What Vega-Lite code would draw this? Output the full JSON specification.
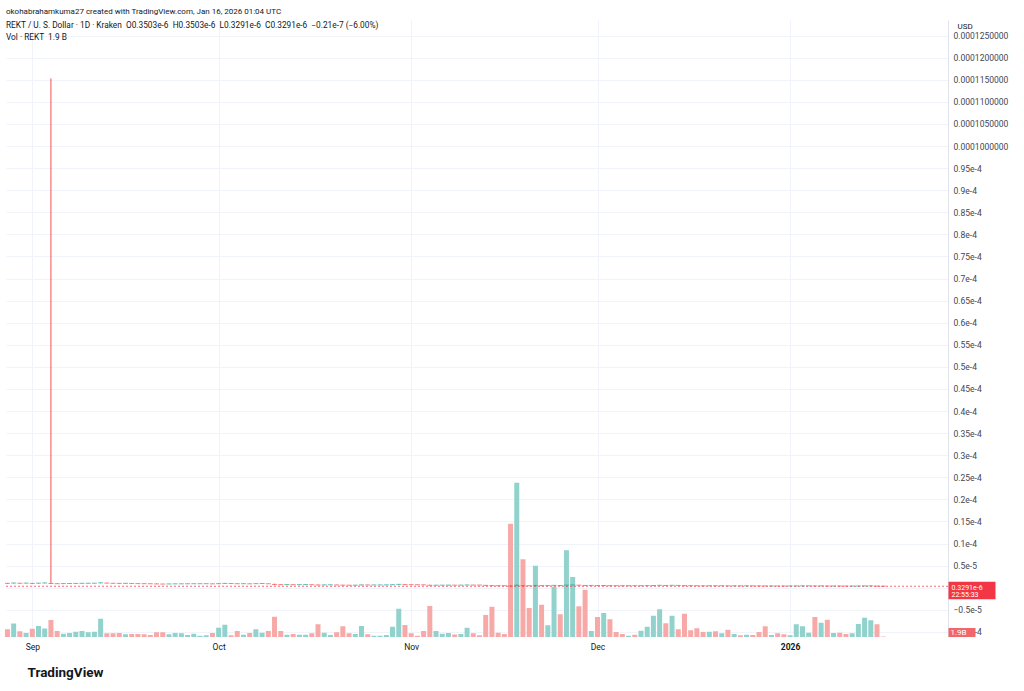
{
  "$schema": "https://vega.github.io/schema/vega-lite/v6.json",
  "width": 942,
  "height": 617,
  "autosize": {"type": "none"},
  "padding": {"left": 6, "top": 20, "right": 76, "bottom": 54},
  "background": "white",
  "config": {
    "view": {"stroke": null},
    "font": "Roboto",
    "axis": {"labelFont": "Roboto", "titleFont": "Roboto"}
  },
  "title": {
    "text": "okohabrahamkuma27 created with TradingView.com, Jan 16, 2026 01:04 UTC",
    "subtitle": ["\u00a0REKT / U. S. Dollar · 1D · Kraken \u00a0O0.3503e-6 \u00a0H0.3503e-6 \u00a0L0.3291e-6 \u00a0C0.3291e-6 \u00a0−0.21e-7 (−6.00%)", "\u00a0Vol · REKT \u00a01.9 B"],
    "anchor": "start",
    "frame": "group",
    "orient": "top",
    "offset": -21,
    "font": "Roboto",
    "fontSize": 8,
    "fontWeight": "normal",
    "color": "#131722",
    "subtitleFont": "Roboto",
    "subtitleFontSize": 8.3,
    "subtitleColor": "#131722",
    "subtitlePadding": 5,
    "subtitleLineHeight": 11.3
  },
  "datasets": {
    "candles": [
      {"date": "2025-08-28", "o": 1.05e-6, "h": 1.08e-6, "l": 0.95e-6, "c": 0.98e-6, "vol": 31},
      {"date": "2025-08-29", "o": 0.98e-6, "h": 1.09e-6, "l": 0.95e-6, "c": 1.06e-6, "vol": 54},
      {"date": "2025-08-30", "o": 1.06e-6, "h": 1.09e-6, "l": 0.98e-6, "c": 1.01e-6, "vol": 23},
      {"date": "2025-08-31", "o": 1.01e-6, "h": 1.07e-6, "l": 0.98e-6, "c": 1.04e-6, "vol": 16},
      {"date": "2025-09-01", "o": 1.04e-6, "h": 1.07e-6, "l": 0.94e-6, "c": 0.97e-6, "vol": 33},
      {"date": "2025-09-02", "o": 0.97e-6, "h": 1.06e-6, "l": 0.94e-6, "c": 1.03e-6, "vol": 44},
      {"date": "2025-09-03", "o": 1.03e-6, "h": 1.10e-6, "l": 1.00e-6, "c": 1.07e-6, "vol": 34},
      {"date": "2025-09-04", "o": 1.07e-6, "h": 1.153e-4, "l": 0.92e-6, "c": 0.95e-6, "vol": 68},
      {"date": "2025-09-05", "o": 0.95e-6, "h": 0.98e-6, "l": 0.88e-6, "c": 0.91e-6, "vol": 24},
      {"date": "2025-09-06", "o": 0.91e-6, "h": 0.96e-6, "l": 0.88e-6, "c": 0.93e-6, "vol": 13},
      {"date": "2025-09-07", "o": 0.93e-6, "h": 0.98e-6, "l": 0.90e-6, "c": 0.95e-6, "vol": 16},
      {"date": "2025-09-08", "o": 0.95e-6, "h": 1.00e-6, "l": 0.92e-6, "c": 0.97e-6, "vol": 21},
      {"date": "2025-09-09", "o": 0.97e-6, "h": 1.02e-6, "l": 0.94e-6, "c": 0.99e-6, "vol": 24},
      {"date": "2025-09-10", "o": 0.99e-6, "h": 1.03e-6, "l": 0.96e-6, "c": 1.00e-6, "vol": 19},
      {"date": "2025-09-11", "o": 1.00e-6, "h": 1.05e-6, "l": 0.97e-6, "c": 1.02e-6, "vol": 21},
      {"date": "2025-09-12", "o": 1.02e-6, "h": 1.14e-6, "l": 0.99e-6, "c": 1.10e-6, "vol": 73},
      {"date": "2025-09-13", "o": 1.10e-6, "h": 1.12e-6, "l": 1.01e-6, "c": 1.04e-6, "vol": 15},
      {"date": "2025-09-14", "o": 1.04e-6, "h": 1.06e-6, "l": 0.97e-6, "c": 1.00e-6, "vol": 15},
      {"date": "2025-09-15", "o": 1.00e-6, "h": 1.03e-6, "l": 0.94e-6, "c": 0.97e-6, "vol": 16},
      {"date": "2025-09-16", "o": 0.97e-6, "h": 1.02e-6, "l": 0.94e-6, "c": 0.99e-6, "vol": 11},
      {"date": "2025-09-17", "o": 0.99e-6, "h": 1.01e-6, "l": 0.93e-6, "c": 0.96e-6, "vol": 12},
      {"date": "2025-09-18", "o": 0.96e-6, "h": 0.98e-6, "l": 0.90e-6, "c": 0.93e-6, "vol": 12},
      {"date": "2025-09-19", "o": 0.93e-6, "h": 0.95e-6, "l": 0.88e-6, "c": 0.91e-6, "vol": 11},
      {"date": "2025-09-20", "o": 0.91e-6, "h": 0.93e-6, "l": 0.88e-6, "c": 0.90e-6, "vol": 8},
      {"date": "2025-09-21", "o": 0.90e-6, "h": 0.92e-6, "l": 0.83e-6, "c": 0.86e-6, "vol": 19},
      {"date": "2025-09-22", "o": 0.86e-6, "h": 0.88e-6, "l": 0.80e-6, "c": 0.83e-6, "vol": 19},
      {"date": "2025-09-23", "o": 0.83e-6, "h": 0.87e-6, "l": 0.81e-6, "c": 0.85e-6, "vol": 11},
      {"date": "2025-09-24", "o": 0.85e-6, "h": 0.89e-6, "l": 0.83e-6, "c": 0.87e-6, "vol": 16},
      {"date": "2025-09-25", "o": 0.87e-6, "h": 0.90e-6, "l": 0.85e-6, "c": 0.88e-6, "vol": 15},
      {"date": "2025-09-26", "o": 0.88e-6, "h": 0.91e-6, "l": 0.86e-6, "c": 0.89e-6, "vol": 8},
      {"date": "2025-09-27", "o": 0.89e-6, "h": 0.92e-6, "l": 0.87e-6, "c": 0.90e-6, "vol": 13},
      {"date": "2025-09-28", "o": 0.90e-6, "h": 0.92e-6, "l": 0.88e-6, "c": 0.905e-6, "vol": 5},
      {"date": "2025-09-29", "o": 0.905e-6, "h": 0.93e-6, "l": 0.89e-6, "c": 0.91e-6, "vol": 7},
      {"date": "2025-09-30", "o": 0.91e-6, "h": 0.93e-6, "l": 0.85e-6, "c": 0.87e-6, "vol": 16},
      {"date": "2025-10-01", "o": 0.87e-6, "h": 0.95e-6, "l": 0.85e-6, "c": 0.92e-6, "vol": 37},
      {"date": "2025-10-02", "o": 0.92e-6, "h": 1.00e-6, "l": 0.90e-6, "c": 0.97e-6, "vol": 49},
      {"date": "2025-10-03", "o": 0.97e-6, "h": 0.99e-6, "l": 0.93e-6, "c": 0.95e-6, "vol": 7},
      {"date": "2025-10-04", "o": 0.95e-6, "h": 0.97e-6, "l": 0.88e-6, "c": 0.90e-6, "vol": 24},
      {"date": "2025-10-05", "o": 0.90e-6, "h": 0.93e-6, "l": 0.88e-6, "c": 0.91e-6, "vol": 9},
      {"date": "2025-10-06", "o": 0.91e-6, "h": 0.93e-6, "l": 0.86e-6, "c": 0.88e-6, "vol": 16},
      {"date": "2025-10-07", "o": 0.88e-6, "h": 0.95e-6, "l": 0.86e-6, "c": 0.92e-6, "vol": 31},
      {"date": "2025-10-08", "o": 0.92e-6, "h": 0.96e-6, "l": 0.90e-6, "c": 0.94e-6, "vol": 17},
      {"date": "2025-10-09", "o": 0.94e-6, "h": 0.96e-6, "l": 0.87e-6, "c": 0.89e-6, "vol": 24},
      {"date": "2025-10-10", "o": 0.89e-6, "h": 0.91e-6, "l": 0.66e-6, "c": 0.74e-6, "vol": 81},
      {"date": "2025-10-11", "o": 0.74e-6, "h": 0.76e-6, "l": 0.67e-6, "c": 0.70e-6, "vol": 24},
      {"date": "2025-10-12", "o": 0.70e-6, "h": 0.73e-6, "l": 0.68e-6, "c": 0.71e-6, "vol": 9},
      {"date": "2025-10-13", "o": 0.71e-6, "h": 0.73e-6, "l": 0.67e-6, "c": 0.69e-6, "vol": 12},
      {"date": "2025-10-14", "o": 0.69e-6, "h": 0.72e-6, "l": 0.67e-6, "c": 0.70e-6, "vol": 9},
      {"date": "2025-10-15", "o": 0.70e-6, "h": 0.73e-6, "l": 0.68e-6, "c": 0.71e-6, "vol": 9},
      {"date": "2025-10-16", "o": 0.71e-6, "h": 0.73e-6, "l": 0.66e-6, "c": 0.68e-6, "vol": 15},
      {"date": "2025-10-17", "o": 0.68e-6, "h": 0.70e-6, "l": 0.59e-6, "c": 0.62e-6, "vol": 51},
      {"date": "2025-10-18", "o": 0.62e-6, "h": 0.66e-6, "l": 0.60e-6, "c": 0.64e-6, "vol": 17},
      {"date": "2025-10-19", "o": 0.64e-6, "h": 0.67e-6, "l": 0.62e-6, "c": 0.65e-6, "vol": 8},
      {"date": "2025-10-20", "o": 0.65e-6, "h": 0.67e-6, "l": 0.60e-6, "c": 0.62e-6, "vol": 19},
      {"date": "2025-10-21", "o": 0.62e-6, "h": 0.64e-6, "l": 0.56e-6, "c": 0.58e-6, "vol": 43},
      {"date": "2025-10-22", "o": 0.58e-6, "h": 0.60e-6, "l": 0.55e-6, "c": 0.57e-6, "vol": 15},
      {"date": "2025-10-23", "o": 0.57e-6, "h": 0.60e-6, "l": 0.55e-6, "c": 0.58e-6, "vol": 12},
      {"date": "2025-10-24", "o": 0.58e-6, "h": 0.66e-6, "l": 0.56e-6, "c": 0.63e-6, "vol": 44},
      {"date": "2025-10-25", "o": 0.63e-6, "h": 0.65e-6, "l": 0.60e-6, "c": 0.62e-6, "vol": 11},
      {"date": "2025-10-26", "o": 0.62e-6, "h": 0.64e-6, "l": 0.61e-6, "c": 0.625e-6, "vol": 5},
      {"date": "2025-10-27", "o": 0.625e-6, "h": 0.65e-6, "l": 0.61e-6, "c": 0.63e-6, "vol": 5},
      {"date": "2025-10-28", "o": 0.63e-6, "h": 0.66e-6, "l": 0.61e-6, "c": 0.64e-6, "vol": 8},
      {"date": "2025-10-29", "o": 0.64e-6, "h": 0.71e-6, "l": 0.62e-6, "c": 0.68e-6, "vol": 41},
      {"date": "2025-10-30", "o": 0.68e-6, "h": 0.81e-6, "l": 0.66e-6, "c": 0.76e-6, "vol": 113},
      {"date": "2025-10-31", "o": 0.76e-6, "h": 0.78e-6, "l": 0.68e-6, "c": 0.70e-6, "vol": 48},
      {"date": "2025-11-01", "o": 0.70e-6, "h": 0.72e-6, "l": 0.66e-6, "c": 0.68e-6, "vol": 15},
      {"date": "2025-11-02", "o": 0.68e-6, "h": 0.69e-6, "l": 0.66e-6, "c": 0.675e-6, "vol": 5},
      {"date": "2025-11-03", "o": 0.675e-6, "h": 0.69e-6, "l": 0.63e-6, "c": 0.65e-6, "vol": 24},
      {"date": "2025-11-04", "o": 0.65e-6, "h": 0.67e-6, "l": 0.52e-6, "c": 0.55e-6, "vol": 124},
      {"date": "2025-11-05", "o": 0.55e-6, "h": 0.59e-6, "l": 0.53e-6, "c": 0.57e-6, "vol": 24},
      {"date": "2025-11-06", "o": 0.57e-6, "h": 0.60e-6, "l": 0.55e-6, "c": 0.58e-6, "vol": 13},
      {"date": "2025-11-07", "o": 0.58e-6, "h": 0.61e-6, "l": 0.56e-6, "c": 0.59e-6, "vol": 16},
      {"date": "2025-11-08", "o": 0.59e-6, "h": 0.60e-6, "l": 0.57e-6, "c": 0.58e-6, "vol": 10},
      {"date": "2025-11-09", "o": 0.58e-6, "h": 0.60e-6, "l": 0.57e-6, "c": 0.59e-6, "vol": 12},
      {"date": "2025-11-10", "o": 0.59e-6, "h": 0.64e-6, "l": 0.58e-6, "c": 0.62e-6, "vol": 37},
      {"date": "2025-11-11", "o": 0.62e-6, "h": 0.63e-6, "l": 0.59e-6, "c": 0.60e-6, "vol": 15},
      {"date": "2025-11-12", "o": 0.60e-6, "h": 0.61e-6, "l": 0.58e-6, "c": 0.595e-6, "vol": 7},
      {"date": "2025-11-13", "o": 0.595e-6, "h": 0.61e-6, "l": 0.51e-6, "c": 0.53e-6, "vol": 88},
      {"date": "2025-11-14", "o": 0.53e-6, "h": 0.55e-6, "l": 0.45e-6, "c": 0.47e-6, "vol": 121},
      {"date": "2025-11-15", "o": 0.47e-6, "h": 0.49e-6, "l": 0.45e-6, "c": 0.46e-6, "vol": 17},
      {"date": "2025-11-16", "o": 0.46e-6, "h": 0.47e-6, "l": 0.44e-6, "c": 0.45e-6, "vol": 12},
      {"date": "2025-11-17", "o": 0.45e-6, "h": 0.50e-6, "l": 0.33e-6, "c": 0.38e-6, "vol": 453},
      {"date": "2025-11-18", "o": 0.38e-6, "h": 0.68e-6, "l": 0.36e-6, "c": 0.55e-6, "vol": 617},
      {"date": "2025-11-19", "o": 0.55e-6, "h": 0.58e-6, "l": 0.45e-6, "c": 0.47e-6, "vol": 311},
      {"date": "2025-11-20", "o": 0.47e-6, "h": 0.49e-6, "l": 0.42e-6, "c": 0.44e-6, "vol": 116},
      {"date": "2025-11-21", "o": 0.44e-6, "h": 0.56e-6, "l": 0.43e-6, "c": 0.52e-6, "vol": 285},
      {"date": "2025-11-22", "o": 0.52e-6, "h": 0.54e-6, "l": 0.45e-6, "c": 0.47e-6, "vol": 129},
      {"date": "2025-11-23", "o": 0.47e-6, "h": 0.50e-6, "l": 0.46e-6, "c": 0.48e-6, "vol": 47},
      {"date": "2025-11-24", "o": 0.48e-6, "h": 0.56e-6, "l": 0.47e-6, "c": 0.53e-6, "vol": 201},
      {"date": "2025-11-25", "o": 0.53e-6, "h": 0.55e-6, "l": 0.49e-6, "c": 0.50e-6, "vol": 91},
      {"date": "2025-11-26", "o": 0.50e-6, "h": 0.63e-6, "l": 0.49e-6, "c": 0.58e-6, "vol": 347},
      {"date": "2025-11-27", "o": 0.58e-6, "h": 0.66e-6, "l": 0.56e-6, "c": 0.62e-6, "vol": 240},
      {"date": "2025-11-28", "o": 0.62e-6, "h": 0.64e-6, "l": 0.55e-6, "c": 0.57e-6, "vol": 123},
      {"date": "2025-11-29", "o": 0.57e-6, "h": 0.59e-6, "l": 0.49e-6, "c": 0.51e-6, "vol": 189},
      {"date": "2025-11-30", "o": 0.51e-6, "h": 0.54e-6, "l": 0.50e-6, "c": 0.52e-6, "vol": 24},
      {"date": "2025-12-01", "o": 0.52e-6, "h": 0.54e-6, "l": 0.46e-6, "c": 0.47e-6, "vol": 80},
      {"date": "2025-12-02", "o": 0.47e-6, "h": 0.52e-6, "l": 0.46e-6, "c": 0.50e-6, "vol": 96},
      {"date": "2025-12-03", "o": 0.50e-6, "h": 0.51e-6, "l": 0.46e-6, "c": 0.47e-6, "vol": 71},
      {"date": "2025-12-04", "o": 0.47e-6, "h": 0.48e-6, "l": 0.45e-6, "c": 0.46e-6, "vol": 20},
      {"date": "2025-12-05", "o": 0.46e-6, "h": 0.47e-6, "l": 0.44e-6, "c": 0.45e-6, "vol": 12},
      {"date": "2025-12-06", "o": 0.45e-6, "h": 0.46e-6, "l": 0.44e-6, "c": 0.452e-6, "vol": 5},
      {"date": "2025-12-07", "o": 0.452e-6, "h": 0.46e-6, "l": 0.44e-6, "c": 0.445e-6, "vol": 9},
      {"date": "2025-12-08", "o": 0.445e-6, "h": 0.47e-6, "l": 0.44e-6, "c": 0.455e-6, "vol": 25},
      {"date": "2025-12-09", "o": 0.455e-6, "h": 0.48e-6, "l": 0.45e-6, "c": 0.47e-6, "vol": 41},
      {"date": "2025-12-10", "o": 0.47e-6, "h": 0.52e-6, "l": 0.46e-6, "c": 0.50e-6, "vol": 85},
      {"date": "2025-12-11", "o": 0.50e-6, "h": 0.56e-6, "l": 0.49e-6, "c": 0.54e-6, "vol": 111},
      {"date": "2025-12-12", "o": 0.54e-6, "h": 0.55e-6, "l": 0.50e-6, "c": 0.51e-6, "vol": 55},
      {"date": "2025-12-13", "o": 0.51e-6, "h": 0.56e-6, "l": 0.50e-6, "c": 0.54e-6, "vol": 85},
      {"date": "2025-12-14", "o": 0.54e-6, "h": 0.55e-6, "l": 0.51e-6, "c": 0.52e-6, "vol": 31},
      {"date": "2025-12-15", "o": 0.52e-6, "h": 0.53e-6, "l": 0.46e-6, "c": 0.47e-6, "vol": 93},
      {"date": "2025-12-16", "o": 0.47e-6, "h": 0.48e-6, "l": 0.45e-6, "c": 0.46e-6, "vol": 27},
      {"date": "2025-12-17", "o": 0.46e-6, "h": 0.47e-6, "l": 0.43e-6, "c": 0.44e-6, "vol": 35},
      {"date": "2025-12-18", "o": 0.44e-6, "h": 0.45e-6, "l": 0.42e-6, "c": 0.43e-6, "vol": 20},
      {"date": "2025-12-19", "o": 0.43e-6, "h": 0.45e-6, "l": 0.42e-6, "c": 0.44e-6, "vol": 21},
      {"date": "2025-12-20", "o": 0.44e-6, "h": 0.45e-6, "l": 0.42e-6, "c": 0.43e-6, "vol": 23},
      {"date": "2025-12-21", "o": 0.43e-6, "h": 0.44e-6, "l": 0.42e-6, "c": 0.435e-6, "vol": 15},
      {"date": "2025-12-22", "o": 0.435e-6, "h": 0.44e-6, "l": 0.41e-6, "c": 0.42e-6, "vol": 29},
      {"date": "2025-12-23", "o": 0.42e-6, "h": 0.43e-6, "l": 0.41e-6, "c": 0.425e-6, "vol": 12},
      {"date": "2025-12-24", "o": 0.425e-6, "h": 0.43e-6, "l": 0.41e-6, "c": 0.42e-6, "vol": 7},
      {"date": "2025-12-25", "o": 0.42e-6, "h": 0.43e-6, "l": 0.41e-6, "c": 0.423e-6, "vol": 9},
      {"date": "2025-12-26", "o": 0.423e-6, "h": 0.43e-6, "l": 0.41e-6, "c": 0.418e-6, "vol": 8},
      {"date": "2025-12-27", "o": 0.418e-6, "h": 0.42e-6, "l": 0.40e-6, "c": 0.41e-6, "vol": 20},
      {"date": "2025-12-28", "o": 0.41e-6, "h": 0.42e-6, "l": 0.38e-6, "c": 0.39e-6, "vol": 43},
      {"date": "2025-12-29", "o": 0.39e-6, "h": 0.40e-6, "l": 0.38e-6, "c": 0.392e-6, "vol": 8},
      {"date": "2025-12-30", "o": 0.392e-6, "h": 0.40e-6, "l": 0.38e-6, "c": 0.385e-6, "vol": 15},
      {"date": "2025-12-31", "o": 0.385e-6, "h": 0.39e-6, "l": 0.37e-6, "c": 0.38e-6, "vol": 11},
      {"date": "2026-01-01", "o": 0.38e-6, "h": 0.39e-6, "l": 0.37e-6, "c": 0.383e-6, "vol": 7},
      {"date": "2026-01-02", "o": 0.383e-6, "h": 0.41e-6, "l": 0.38e-6, "c": 0.40e-6, "vol": 51},
      {"date": "2026-01-03", "o": 0.40e-6, "h": 0.42e-6, "l": 0.39e-6, "c": 0.415e-6, "vol": 43},
      {"date": "2026-01-04", "o": 0.415e-6, "h": 0.43e-6, "l": 0.41e-6, "c": 0.42e-6, "vol": 17},
      {"date": "2026-01-05", "o": 0.42e-6, "h": 0.43e-6, "l": 0.38e-6, "c": 0.39e-6, "vol": 80},
      {"date": "2026-01-06", "o": 0.39e-6, "h": 0.41e-6, "l": 0.38e-6, "c": 0.405e-6, "vol": 57},
      {"date": "2026-01-07", "o": 0.405e-6, "h": 0.41e-6, "l": 0.37e-6, "c": 0.38e-6, "vol": 69},
      {"date": "2026-01-08", "o": 0.38e-6, "h": 0.39e-6, "l": 0.37e-6, "c": 0.385e-6, "vol": 16},
      {"date": "2026-01-09", "o": 0.385e-6, "h": 0.39e-6, "l": 0.37e-6, "c": 0.375e-6, "vol": 17},
      {"date": "2026-01-10", "o": 0.375e-6, "h": 0.38e-6, "l": 0.36e-6, "c": 0.37e-6, "vol": 12},
      {"date": "2026-01-11", "o": 0.37e-6, "h": 0.38e-6, "l": 0.36e-6, "c": 0.373e-6, "vol": 15},
      {"date": "2026-01-12", "o": 0.373e-6, "h": 0.39e-6, "l": 0.37e-6, "c": 0.385e-6, "vol": 52},
      {"date": "2026-01-13", "o": 0.385e-6, "h": 0.41e-6, "l": 0.38e-6, "c": 0.40e-6, "vol": 77},
      {"date": "2026-01-14", "o": 0.40e-6, "h": 0.42e-6, "l": 0.39e-6, "c": 0.41e-6, "vol": 67},
      {"date": "2026-01-15", "o": 0.41e-6, "h": 0.415e-6, "l": 0.345e-6, "c": 0.3503e-6, "vol": 51},
      {"date": "2026-01-16", "o": 0.3503e-6, "h": 0.3503e-6, "l": 0.3291e-6, "c": 0.3291e-6, "vol": 1.9}
    ]
  },
  "layer": [
    {
      "data": {"name": "candles"},
      "mark": {"type": "bar", "width": 5},
      "encoding": {
        "x": {
          "field": "date",
          "type": "temporal",
          "scale": {
            "type": "utc",
            "padding": 0,
            "domain": [
              {"year": 2025, "month": 8, "date": 27, "hours": 18, "minutes": 23, "utc": true},
              {"year": 2026, "month": 1, "date": 26, "hours": 10, "minutes": 19, "utc": true}
            ]
          },
          "axis": {
            "values": [
              {"year": 2025, "month": 9, "date": 1, "utc": true},
              {"year": 2025, "month": 10, "date": 1, "utc": true},
              {"year": 2025, "month": 11, "date": 1, "utc": true},
              {"year": 2025, "month": 12, "date": 1, "utc": true},
              {"year": 2026, "month": 1, "date": 1, "utc": true}
            ],
            "labelExpr": "utcmonth(datum.value) == 0 ? utcFormat(datum.value, '%Y') : utcFormat(datum.value, '%b')",
            "labelFontWeight": {"condition": {"test": "utcmonth(datum.value) == 0", "value": "bold"}, "value": "normal"},
            "grid": true,
            "gridColor": "#f0f3fa",
            "domain": false,
            "ticks": false,
            "labelPadding": 5,
            "labelFontSize": 8.5,
            "labelColor": "#131722",
            "labelFlush": false,
            "labelOverlap": false,
            "title": "TradingView",
            "titleAnchor": "start",
            "titleAlign": "left",
            "titleBaseline": "middle",
            "titleX": 21,
            "titleY": 35,
            "titleFontSize": 13.5,
            "titleFontWeight": "bold",
            "titleColor": "#131722"
          }
        },
        "y": {
          "field": "vol",
          "type": "quantitative",
          "scale": {"domain": [0, 2468], "nice": false, "zero": true},
          "axis": {
            "orient": "right",
            "values": [1.9],
            "labelExpr": "'1.9B'",
            "grid": false,
            "domain": false,
            "ticks": true,
            "tickSize": 27,
            "tickWidth": 9,
            "tickOffset": -4.5,
            "tickColor": "#f0676a",
            "labelColor": "white",
            "labelPadding": -25,
            "labelFontSize": 8,
            "labelOverlap": false,
            "labelFlush": false,
            "title": null,
            "zindex": 2
          }
        },
        "color": {"condition": {"test": "datum.c >= datum.o", "value": "#92d2cc"}, "value": "#f7a9a7"}
      }
    },
    {
      "layer": [
        {
          "data": {"name": "candles"},
          "mark": {"type": "rule", "strokeWidth": 1, "color": "#ef5350"},
          "encoding": {
            "x": {"field": "date", "type": "temporal"},
            "y": {
              "field": "l",
              "type": "quantitative",
              "scale": {"domain": [-1.1162e-5, 1.2853e-4], "nice": false, "zero": false},
              "axis": {
                "orient": "right",
                "values": [-1e-5, -5e-6, 0, 5e-6, 1e-5, 1.5e-5, 2e-5, 2.5e-5, 3e-5, 3.5e-5, 4e-5, 4.5e-5, 5e-5, 5.5e-5, 6e-5, 6.5e-5, 7e-5, 7.5e-5, 8e-5, 8.5e-5, 9e-5, 9.5e-5, 1e-4, 1.05e-4, 1.1e-4, 1.15e-4, 1.2e-4, 1.25e-4],
                "labelExpr": "abs(datum.value) < 1e-12 ? '' : datum.value >= 9.99e-5 ? format(datum.value, '.10f') : abs(datum.value) >= 9.99e-6 ? format(datum.value * 1e4, '.2~f') + 'e-4' : format(datum.value * 1e5, '.2~f') + 'e-5'",
                "grid": true,
                "gridColor": "#f0f3fa",
                "domain": true,
                "domainColor": "#e0e3eb",
                "ticks": false,
                "labelPadding": 5,
                "labelFontSize": 8.5,
                "labelColor": "#434651",
                "labelOverlap": false,
                "labelFlush": false,
                "title": "USD",
                "titleAngle": 0,
                "titleAlign": "left",
                "titleBaseline": "middle",
                "titleX": 9,
                "titleY": 6,
                "titleFontSize": 8,
                "titleFontWeight": "normal",
                "titleColor": "#131722"
              }
            },
            "y2": {"field": "h"},
            "stroke": {"condition": {"test": "datum.c >= datum.o", "value": "#26a69a"}, "value": "#ef5350"}
          }
        },
        {
          "data": {"name": "candles"},
          "mark": {"type": "tick", "orient": "horizontal", "size": 5, "thickness": 1},
          "encoding": {
            "x": {"field": "date", "type": "temporal"},
            "y": {
              "field": "c",
              "type": "quantitative",
              "scale": {"domain": [-1.1162e-5, 1.2853e-4], "nice": false, "zero": false},
              "axis": null
            },
            "color": {"condition": {"test": "datum.c >= datum.o", "value": "#26a69a"}, "value": "#ef5350"}
          }
        },
        {
          "data": {"values": [{"price": 3.291e-7}]},
          "mark": {"type": "rule", "color": "#f23645", "strokeWidth": 1, "strokeDash": [2, 2], "opacity": 0.75},
          "encoding": {
            "y": {
              "field": "price",
              "type": "quantitative",
              "scale": {"domain": [-1.1162e-5, 1.2853e-4], "nice": false, "zero": false},
              "axis": {
                "orient": "right",
                "values": [3.291e-7],
                "labelExpr": "['0.3291e-6', '22:55:33']",
                "grid": false,
                "domain": false,
                "ticks": true,
                "tickSize": 47,
                "tickWidth": 17.5,
                "tickOffset": 4,
                "tickColor": "#f23645",
                "labelColor": "white",
                "labelPadding": -44,
                "labelOffset": -3,
                "labelFontSize": 7,
                "labelLineHeight": 7.5,
                "labelOverlap": false,
                "labelFlush": false,
                "title": null,
                "zindex": 1
              }
            }
          }
        }
      ],
      "resolve": {"axis": {"y": "independent"}}
    }
  ],
  "resolve": {"scale": {"y": "independent"}}
}
